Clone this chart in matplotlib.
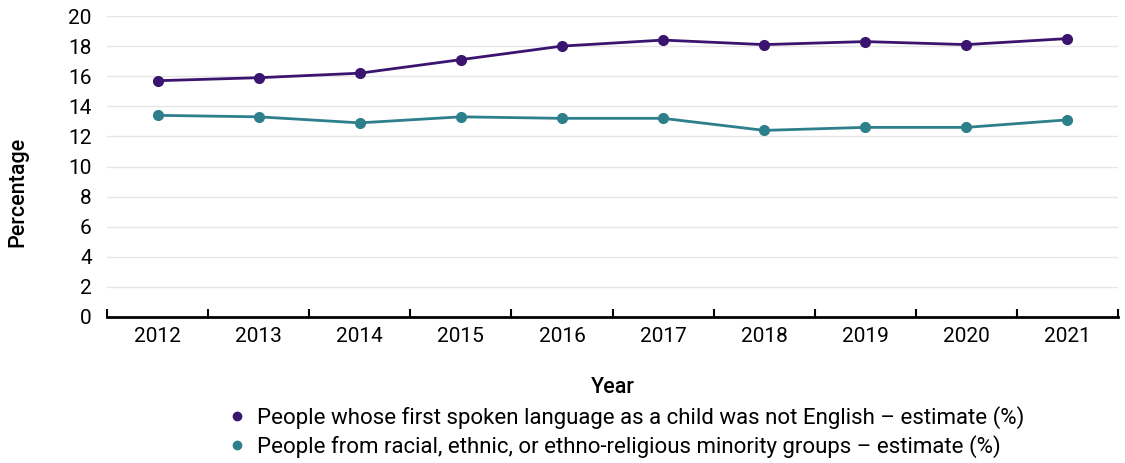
import numpy as np
import matplotlib.pyplot as plt

years = ['2012', '2013', '2014', '2015', '2016', '2017', '2018', '2019', '2020', '2021']
language = [15.7, 15.9, 16.2, 17.1, 18.0, 18.4, 18.1, 18.3, 18.1, 18.5]
minority = [13.4, 13.3, 12.9, 13.3, 13.2, 13.2, 12.4, 12.6, 12.6, 13.1]

label_lang = 'People whose first spoken language as a child was not English \u2013 estimate (%)'
label_min = 'People from racial, ethnic, or ethno-religious minority groups \u2013 estimate (%)'

plt.rcParams['font.family'] = ['Roboto', 'DejaVu Sans']

fig = plt.figure(figsize=(11.25, 4.63), dpi=100)
ax = fig.add_axes([107 / 1125, 146 / 463, 1011 / 1125, 301 / 463])

x = np.arange(len(years))
ax.plot(x, language, color='#3b1470', lw=2, marker='o', ms=7, label=label_lang)
ax.plot(x, minority, color='#2e7f8c', lw=2, marker='o', ms=7, label=label_min)

ax.set_xlim(-0.5, len(years) - 0.5)
ax.set_ylim(0, 20)
ax.set_yticks(range(0, 21, 2))
ax.yaxis.grid(True, color='#e6e6e6', lw=1)
ax.set_axisbelow(True)

ax.set_xticks(x)
ax.set_xticklabels(years)
ax.set_xticks(np.arange(-0.5, len(years)), minor=True)
ax.tick_params(axis='x', which='major', length=0, pad=7, labelsize=15)
ax.tick_params(axis='x', which='minor', direction='in', length=6, width=1.5, color='black')
ax.tick_params(axis='y', length=0, pad=11, labelsize=15)

for s in ['top', 'right', 'left']:
    ax.spines[s].set_visible(False)
ax.spines['bottom'].set_linewidth(2)
ax.spines['bottom'].set_color('black')

ax.set_xlabel('Year', fontsize=15.5, fontweight='medium')
ax.set_ylabel('Percentage', fontsize=15.5, fontweight='medium')
ax.xaxis.set_label_coords(0.5, -0.2)
ax.yaxis.set_label_coords(-0.078, 0.415)

fig.legend(loc='center', bbox_to_anchor=(0.558, 0.067), frameon=False, fontsize=16,
           handlelength=0.6, handletextpad=0.6, labelspacing=0.3)
leg = fig.legends[0]
for h in leg.legend_handles:
    h.set_linestyle('none')
    h.set_markersize(6)

fig.savefig('out.png', dpi=100)
